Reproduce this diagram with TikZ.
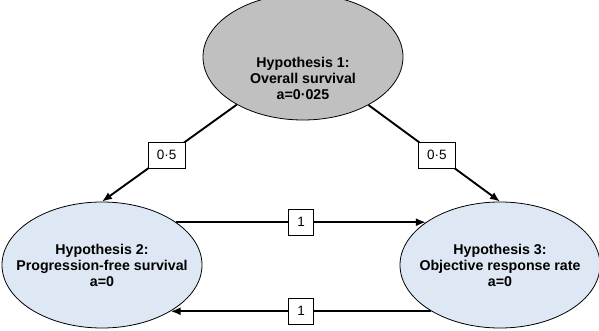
\documentclass[tikz,border=0pt]{standalone}
\usepackage{fontspec}
\setmainfont{Liberation Sans}
\usetikzlibrary{shapes.geometric,arrows.meta}
\definecolor{hypgray}{RGB}{192,192,192}
\definecolor{hypblue}{RGB}{222,232,244}
\tikzset{
  hyp/.style={ellipse, draw, line width=0.8pt, minimum width=200pt, minimum height=126pt, inner sep=0pt},
  hyptext/.style={font=\fontsize{14.2}{16}\selectfont\bfseries, align=center},
  weight/.style={draw, fill=white, line width=0.7pt, font=\fontsize{13.5}{15}\selectfont, minimum height=26pt, inner xsep=9pt},
  flow/.style={-{Latex[length=10pt,width=8pt]}, line width=1.9pt}
}
\begin{document}
\begin{tikzpicture}[x=1pt,y=-1pt]
  \useasboundingbox (0,0) rectangle (599,331);
  % hypotheses
  \node[hyp, fill=hypgray] (h1) at (303,57) {};
  \node[hyptext] (t1) at (303,78) {Hypothesis 1:\\Overall survival\\a=0·025};
  \node[hyp, fill=hypblue] (h2) at (102,265) {};
  \node[hyptext] (t2) at (102,265) {Hypothesis 2:\\Progression-free survival\\a=0};
  \node[hyp, fill=hypblue] (h3) at (500,265) {};
  \node[hyptext] (t3) at (500,265) {Hypothesis 3:\\Objective response rate\\a=0};
  % transitions
  \draw[flow] (h1) -- (h2.north) node[weight, pos=0.52] (w12) {0·5};
  \draw[flow] (h1) -- (h3.north) node[weight, pos=0.52] (w13) {0·5};
  \draw[flow] (h2.30) -- (h3.150) node[weight, midway] (w23) {1};
  \draw[flow] (h3.214) -- (h2.-34) node[weight, midway] (w32) {1};
\end{tikzpicture}
\end{document}
